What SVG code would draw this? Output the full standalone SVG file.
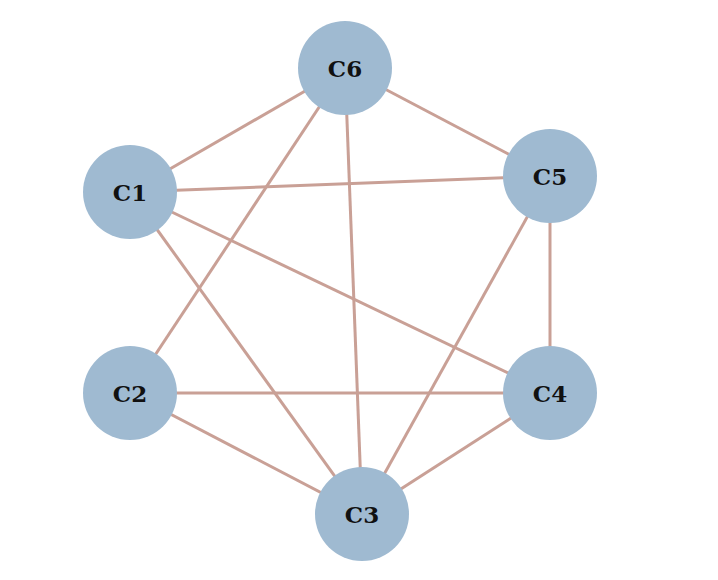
<svg xmlns="http://www.w3.org/2000/svg" width="718" height="580" viewBox="0 0 718 580">
<style>
.edge{stroke:#c9a096;stroke-width:3;fill:none}
.node circle{fill:#9fbad1}
.node text{font-family:"DejaVu Serif","Liberation Serif",serif;font-weight:bold;font-size:23px;fill:#111;text-anchor:middle;dominant-baseline:central}
</style>
<rect width="718" height="580" fill="#fff"/>
<g id="edges">
<line class="edge" x1="345" y1="68" x2="130" y2="192"/>
<line class="edge" x1="345" y1="68" x2="550" y2="176"/>
<line class="edge" x1="345" y1="68" x2="130" y2="393"/>
<line class="edge" x1="345" y1="68" x2="362" y2="514"/>
<line class="edge" x1="130" y1="192" x2="550" y2="176"/>
<line class="edge" x1="130" y1="192" x2="550" y2="393"/>
<line class="edge" x1="130" y1="192" x2="362" y2="514"/>
<line class="edge" x1="550" y1="176" x2="550" y2="393"/>
<line class="edge" x1="550" y1="176" x2="362" y2="514"/>
<line class="edge" x1="130" y1="393" x2="550" y2="393"/>
<line class="edge" x1="130" y1="393" x2="362" y2="514"/>
<line class="edge" x1="550" y1="393" x2="362" y2="514"/>
</g>
<g id="C6" class="node"><circle cx="345" cy="68" r="47"/><text x="345" y="68">C6</text></g>
<g id="C1" class="node"><circle cx="130" cy="192" r="47"/><text x="130" y="192">C1</text></g>
<g id="C5" class="node"><circle cx="550" cy="176" r="47"/><text x="550" y="176">C5</text></g>
<g id="C2" class="node"><circle cx="130" cy="393" r="47"/><text x="130" y="393">C2</text></g>
<g id="C4" class="node"><circle cx="550" cy="393" r="47"/><text x="550" y="393">C4</text></g>
<g id="C3" class="node"><circle cx="362" cy="514" r="47"/><text x="362" y="514">C3</text></g>
</svg>
